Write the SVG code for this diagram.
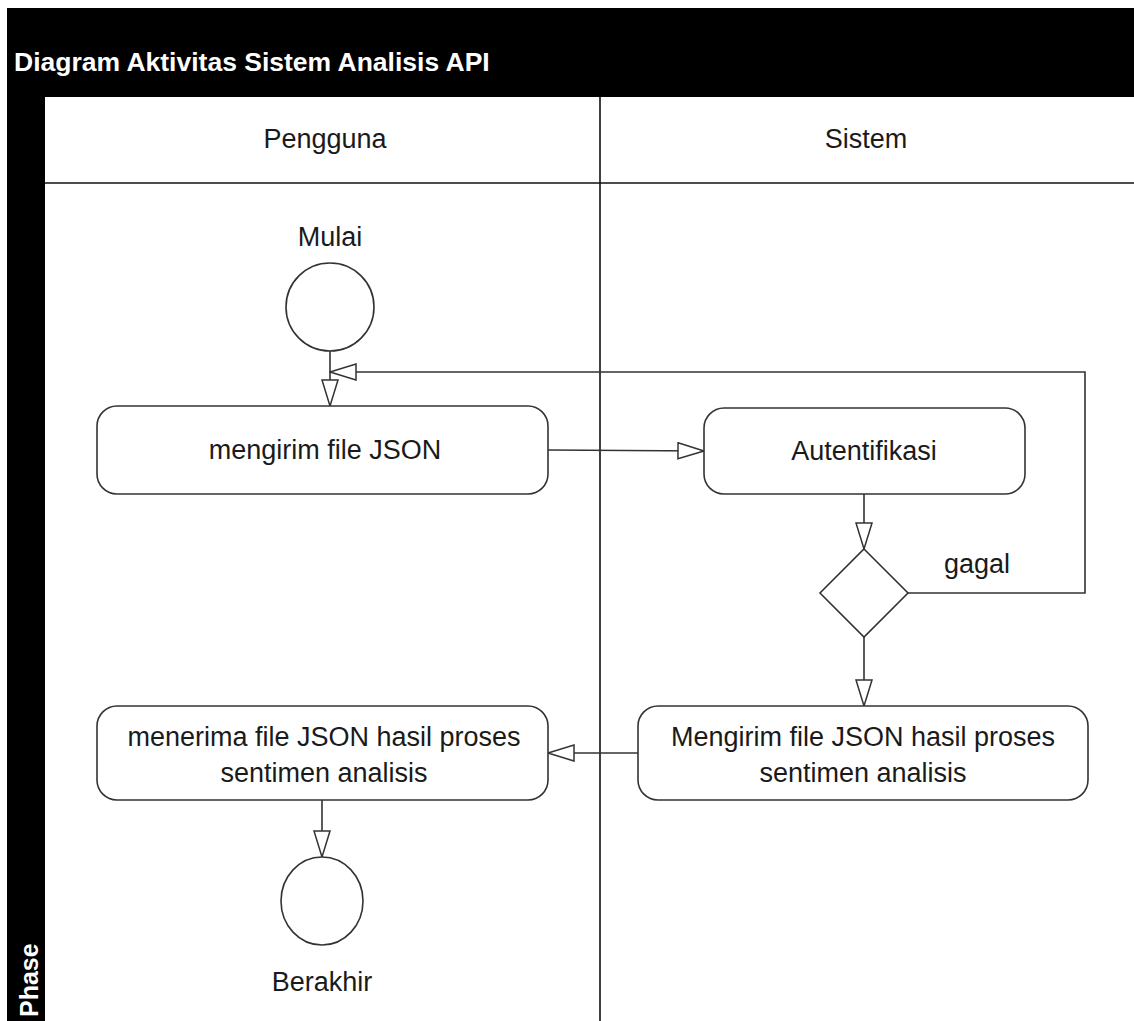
<svg xmlns="http://www.w3.org/2000/svg" width="1134" height="1021" viewBox="0 0 1134 1021">
<style>
  .lbl { font-family: "Liberation Sans", Arial, sans-serif; font-size: 27px; fill: #1a1a1a; text-anchor: middle; }
  .act { fill: #ffffff; stroke: #333333; stroke-width: 1.6; }
  .conn { fill: none; stroke: #333333; stroke-width: 1.6; }
  .lane { stroke: #111111; stroke-width: 1.6; fill: none; }
</style>
<defs>
  <marker id="open" viewBox="0 0 28 18" refX="27" refY="9" markerWidth="28" markerHeight="18" markerUnits="userSpaceOnUse" orient="auto">
    <path d="M1,1 L27,9 L1,17 Z" fill="#ffffff" stroke="#333333" stroke-width="1.5"/>
  </marker>
</defs>
<rect x="0" y="0" width="1134" height="1021" fill="#ffffff"/>
<g id="frame">
  <rect x="7" y="8" width="1127" height="89" fill="#000000"/>
  <rect x="7" y="8" width="38" height="1013" fill="#000000"/>
  <text x="14" y="71" style="font-family: 'Liberation Sans', Arial, sans-serif; font-size: 26.5px; font-weight: bold; fill: #ffffff;">Diagram Aktivitas Sistem Analisis API</text>
  <text transform="translate(38,1017) rotate(-90)" style="font-family: 'Liberation Sans', Arial, sans-serif; font-size: 25px; font-weight: bold; fill: #ffffff;">Phase</text>
  <line class="lane" x1="45" y1="183" x2="1134" y2="183"/>
  <line class="lane" x1="600" y1="97" x2="600" y2="1021"/>
</g>
<g id="lane-pengguna"><text class="lbl" x="325" y="148">Pengguna</text></g>
<g id="lane-sistem"><text class="lbl" x="866" y="148">Sistem</text></g>

<g id="connectors">
  <line class="conn" x1="330" y1="351" x2="330" y2="406" marker-end="url(#open)"/>
  <polyline class="conn" points="908,593 1085,593 1085,372 330,372" marker-end="url(#open)"/>
  <line class="conn" x1="548" y1="450" x2="704" y2="451" marker-end="url(#open)"/>
  <line class="conn" x1="864" y1="494" x2="864" y2="549" marker-end="url(#open)"/>
  <line class="conn" x1="864" y1="637" x2="864" y2="706" marker-end="url(#open)"/>
  <line class="conn" x1="638" y1="753" x2="548" y2="753" marker-end="url(#open)"/>
  <line class="conn" x1="322" y1="800" x2="322" y2="857" marker-end="url(#open)"/>
  <text class="lbl" x="977" y="573">gagal</text>
</g>

<g id="start">
  <text class="lbl" x="330" y="246">Mulai</text>
  <circle class="act" cx="330" cy="307" r="44"/>
</g>
<g id="kirim-json">
  <rect class="act" x="97" y="406" width="451" height="88" rx="20"/>
  <text class="lbl" x="325" y="459">mengirim file JSON</text>
</g>
<g id="autentifikasi">
  <rect class="act" x="704" y="408" width="321" height="86" rx="20"/>
  <text class="lbl" x="864" y="460">Autentifikasi</text>
</g>
<g id="decision">
  <polygon class="act" points="864,549 908,593 864,637 820,593"/>
</g>
<g id="mengirim-hasil">
  <rect class="act" x="638" y="706" width="450" height="94" rx="20"/>
  <text class="lbl" x="863" y="746">Mengirim file JSON hasil proses</text>
  <text class="lbl" x="863" y="782">sentimen analisis</text>
</g>
<g id="menerima-hasil">
  <rect class="act" x="97" y="706" width="451" height="94" rx="20"/>
  <text class="lbl" x="324" y="746">menerima file JSON hasil proses</text>
  <text class="lbl" x="324" y="782">sentimen analisis</text>
</g>
<g id="end">
  <ellipse class="act" cx="322" cy="901" rx="41" ry="44"/>
  <text class="lbl" x="322" y="991">Berakhir</text>
</g>
</svg>
